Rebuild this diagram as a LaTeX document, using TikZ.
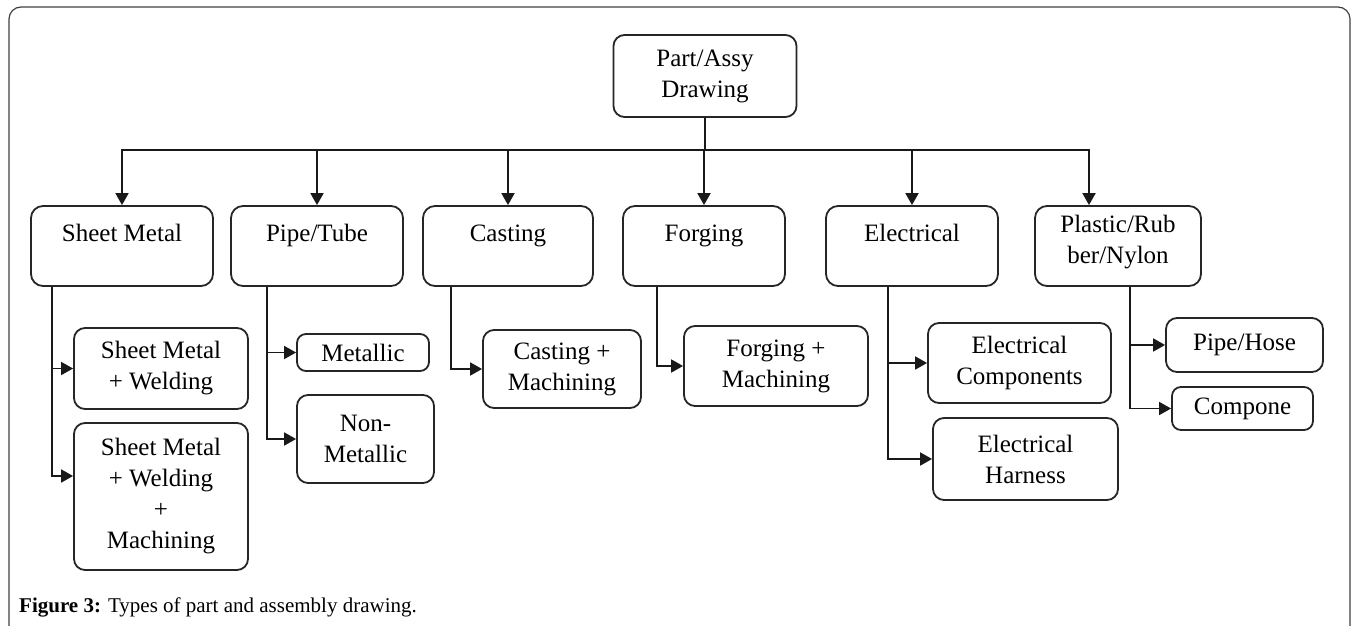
\documentclass[tikz,border=0pt]{standalone}
\usepackage{fontspec}
\setmainfont{Liberation Serif}
\usetikzlibrary{arrows.meta,positioning}
\newcommand{\boxfont}{\fontsize{25}{31}\selectfont}
\tikzset{
  catbox/.style={draw=black!85, line width=1.8pt, rounded corners=12pt, minimum height=80pt, inner sep=0pt},
  subbox/.style={draw=black!85, line width=1.8pt, rounded corners=11pt, align=center, inner sep=0pt, font=\boxfont},
  txt/.style={align=center, inner sep=0pt, font=\boxfont},
  oneline/.style={text height=17pt, text depth=6pt},
  twoline/.style={},
  link/.style={draw=black!90, line width=1.8pt},
  arr/.style={link, -{Triangle[length=12pt,width=13pt]}},
}

\begin{document}
\begin{tikzpicture}[x=1pt, y=-1pt]
  \useasboundingbox (0,0) rectangle (1354,626);
  % outer frame
  \draw[black!75, line width=1.2pt, rounded corners=12pt] (9,7) rectangle (1350,660);

  \node[subbox, minimum width=183pt, minimum height=82pt] (root) at (705,76) {Part/Assy\\Drawing};

  % first row
  \foreach \nm/\cx/\bw/\ty/\st/\lbl in {
    sheet/122/182/236/oneline/{Sheet Metal}, pipe/317/172/236/oneline/{Pipe/Tube},
    cast/508/170/236/oneline/Casting, forge/704/162/236/oneline/Forging,
    elec/912/172/236/oneline/Electrical, plast/1118/166/242/twoline/{Plastic/Rub\\ber/Nylon}}{
    \node[catbox, minimum width=\bw pt] (\nm) at (\cx,246) {};
    \node[txt, \st] (\nm-t) at (\cx,\ty) {\lbl};
  }

  % second row
  \node[subbox, minimum width=174pt, minimum height=81pt] (smw) at (161,368.5) {Sheet Metal\\+ Welding};
  \node[subbox, minimum width=174pt, minimum height=147pt] (smwm) at (161,496.5) {Sheet Metal\\+ Welding\\+\\Machining};
  \node[subbox, minimum width=132pt, minimum height=37pt, rounded corners=9pt] (metal) at (363,352.5) {Metallic};
  \node[subbox, minimum width=137pt, minimum height=88pt] (nonmetal) at (365.5,439) {Non-\\Metallic};
  \node[subbox, minimum width=158pt, minimum height=78pt] (castm) at (562,369) {Casting +\\Machining};
  \node[subbox, minimum width=184pt, minimum height=80pt] (forgem) at (776,366) {Forging +\\Machining};
  \node[subbox, minimum width=183pt, minimum height=80pt] (ec) at (1019.5,363) {Electrical\\Components};
  \node[subbox, minimum width=185pt, minimum height=82pt] (eh) at (1025.5,459) {Electrical\\Harness};
  \node[subbox, minimum width=157pt, minimum height=54pt] (hose) at (1244.5,345) {Pipe/Hose};
  \node[subbox, minimum width=141pt, minimum height=43pt, rounded corners=9pt] (comp) at (1242.5,408.5) {Compone};

  \node[anchor=west, inner sep=0pt, font=\fontsize{21}{25}\selectfont] (cap) at (19,607)
    {\textbf{Figure 3:} Types of part and assembly drawing.};

  % root to first row
  \coordinate (bus) at (0,150);
  \coordinate (plast-in) at ([xshift=-29pt]plast.north);
  \draw[arr] (root.south) -- (root.south |- bus) -| (sheet.north);
  \draw[arr] (root.south |- bus) -| (plast-in);
  \foreach \nm in {pipe,cast,forge,elec}
    \draw[arr] (\nm.north |- bus) -- (\nm.north);

  % first row to second row
  \draw[arr] ([xshift=-70pt]sheet.south) |- (smw);
  \draw[arr] ([xshift=-70pt]sheet.south) |- ([yshift=20.5pt]smwm.west);
  \draw[arr] ([xshift=-50pt]pipe.south) |- (metal);
  \draw[arr] ([xshift=-50pt]pipe.south) |- (nonmetal);
  \draw[arr] ([xshift=-57pt]cast.south) |- (castm);
  \draw[arr] ([xshift=-47pt]forge.south) |- (forgem);
  \draw[arr] ([xshift=-24pt]elec.south) |- (ec);
  \draw[arr] ([xshift=-24pt]elec.south) |- (eh);
  \draw[arr] ([xshift=12pt]plast.south) |- (hose);
  \draw[arr] ([xshift=12pt]plast.south) |- (comp);
\end{tikzpicture}
\end{document}
